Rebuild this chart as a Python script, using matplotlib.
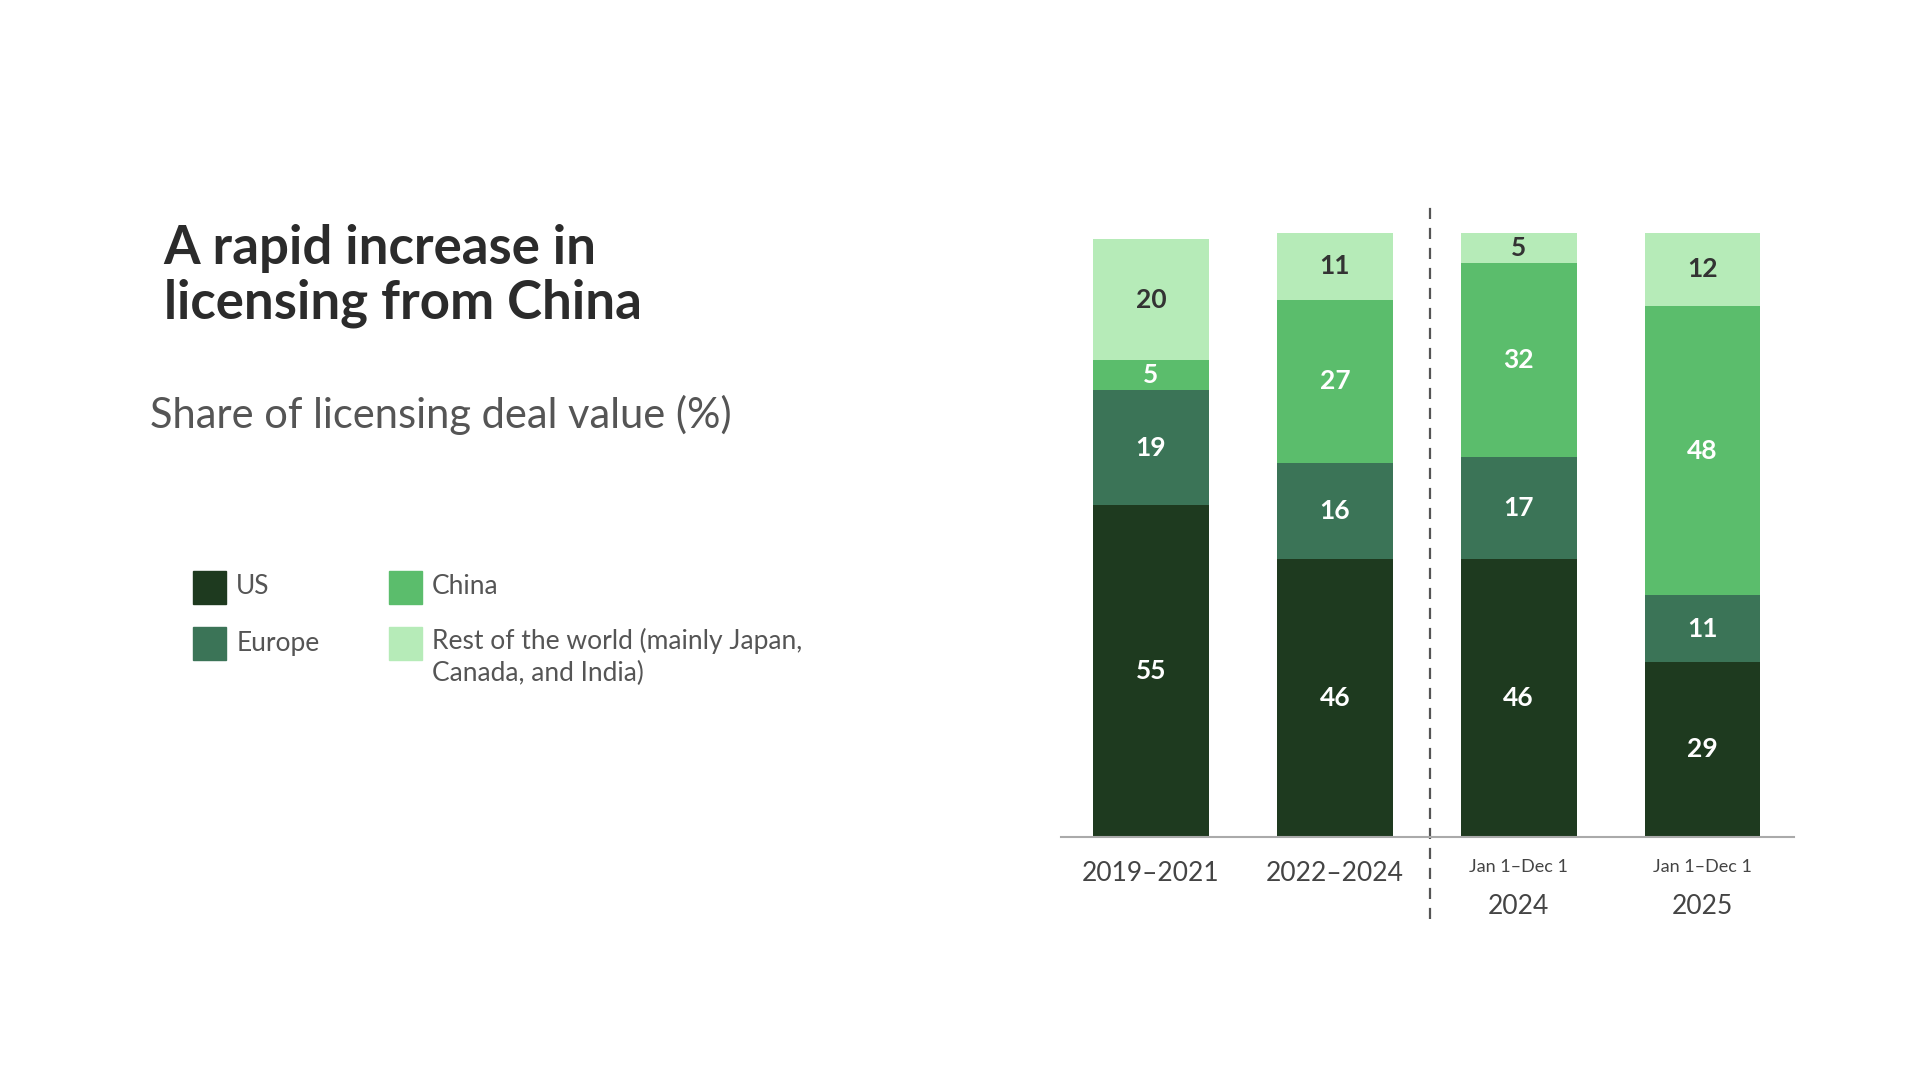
import matplotlib.pyplot as plt
from matplotlib.patches import Rectangle

plt.rcParams['font.family'] = ['Lato', 'DejaVu Sans']

periods = ["2019\u20132021", "2022\u20132024", "2024", "2025"]
sub_labels = ["", "", "Jan 1\u2013Dec 1", "Jan 1\u2013Dec 1"]
us = [55, 46, 46, 29]
europe = [19, 16, 17, 11]
china = [5, 27, 32, 48]
rest = [20, 11, 5, 12]

series = [("US", us, "#1e3a1f", "white"),
          ("Europe", europe, "#3b7457", "white"),
          ("China", china, "#5bbd6c", "white"),
          ("Rest of the world (mainly Japan,\nCanada, and India)", rest, "#b6ebb8", "#333333")]

W, H = 1560, 880
fig = plt.figure(figsize=(19.2, 10.8), dpi=100)
ax = fig.add_axes([862 / W, 1 - 682 / H, (1458 - 862) / W, (682 - 190) / H])

x = list(range(len(periods)))
bottom = [0] * len(periods)
for name, vals, col, tcol in series:
    ax.bar(x, vals, bottom=bottom, width=0.63, color=col, edgecolor="none")
    for i, v in enumerate(vals):
        ax.text(i, bottom[i] + v / 2, str(v), ha="center", va="center",
                color=tcol, fontsize=19, fontweight="bold")
    bottom = [b + v for b, v in zip(bottom, vals)]

ax.set_xlim(-0.49, 3.5)
ax.set_ylim(0, 100)
for s in ["top", "right", "left"]:
    ax.spines[s].set_visible(False)
ax.spines["bottom"].set_color("#aaaaaa")
ax.spines["bottom"].set_linewidth(1.5)
ax.set_yticks([])
ax.set_xticks([])
for i, (p, s) in enumerate(zip(periods, sub_labels)):
    if s:
        ax.text(i, -5, s, ha="center", va="center", fontsize=13, color="#444444")
        ax.text(i, -11.5, p, ha="center", va="center", fontsize=19, color="#444444")
    else:
        ax.text(i, -6, p, ha="center", va="center", fontsize=19, color="#444444")
ax.plot([1.52, 1.52], [-13.5, 105], ls=(0, (5, 4)), color="#555555", lw=1.6,
        clip_on=False)

fig.text(133 / W, 1 - 225 / H, "A rapid increase in\nlicensing from China",
         fontsize=38, fontweight="bold", color="#2b2b2b", va="center",
         linespacing=1.15)
fig.text(122 / W, 1 - 338 / H, "Share of licensing deal value (%)",
         fontsize=30, color="#555555", va="center")

legend_pos = [(157, 465), (157, 511), (316, 465), (316, 511)]
for (name, vals, col, tcol), (lx, ly) in zip(series, legend_pos):
    fig.add_artist(Rectangle((lx / W, 1 - (ly + 27) / H), 27 / W, 27 / H,
                             transform=fig.transFigure, color=col))
    if "\n" in name:
        fig.text((lx + 35) / W, 1 - (ly + 1) / H, name, fontsize=19,
                 color="#555555", va="top", linespacing=1.3)
    else:
        fig.text((lx + 35) / W, 1 - (ly + 13) / H, name, fontsize=19,
                 color="#555555", va="center")

fig.savefig("out.png", dpi=100, facecolor="white")
